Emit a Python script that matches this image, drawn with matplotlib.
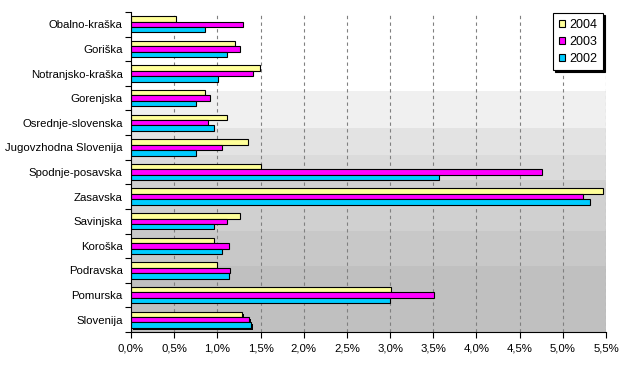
import matplotlib
matplotlib.use("Agg")
import matplotlib.pyplot as plt
import matplotlib.patheffects as pe
from matplotlib.patches import Rectangle
from matplotlib.ticker import FuncFormatter, MultipleLocator, FixedLocator

plt.rcParams['font.family'] = ['Liberation Sans', 'DejaVu Sans']

regions = ["Obalno-kraška", "Goriška", "Notranjsko-kraška", "Gorenjska",
           "Osrednje-slovenska", "Jugovzhodna Slovenija", "Spodnje-posavska",
           "Zasavska", "Savinjska", "Koroška", "Podravska", "Pomurska", "Slovenija"]
v2004 = [0.52, 1.20, 1.49, 0.86, 1.11, 1.35, 1.50, 5.47, 1.26, 0.96, 0.99, 3.01, 1.28]
v2003 = [1.30, 1.26, 1.41, 0.91, 0.89, 1.05, 4.76, 5.23, 1.11, 1.14, 1.15, 3.51, 1.37]
v2002 = [0.86, 1.11, 1.01, 0.75, 0.96, 0.75, 3.57, 5.32, 0.96, 1.05, 1.14, 3.00, 1.39]
years = ["2004", "2003", "2002"]
colors = ["#FFFF99", "#FF00FF", "#00CCFF"]

fig = plt.figure(figsize=(6.25, 3.69), dpi=100)
ax = fig.add_axes([131/625, 1-332/369, 475/625, 320/369])

# background bands (axes fraction)
bands = [(0.0, 0.206, "#C0C0C0"), (0.206, 0.316, "#C8C8C8"), (0.316, 0.475, "#D0D0D0"),
         (0.475, 0.553, "#DBDBDB"), (0.553, 0.6375, "#E3E3E3"), (0.6375, 0.753, "#F0F0F0"),
         (0.753, 1.0, "#FFFFFF")]
for y0, y1, c in bands:
    ax.add_patch(Rectangle((0, y0), 1, y1 - y0, transform=ax.transAxes,
                           facecolor=c, edgecolor='none', zorder=0))

h = 0.22
ypos = list(range(len(regions)))
for k, (vals, col, yr) in enumerate(zip([v2004, v2003, v2002], colors, years)):
    off = (k - 1) * h
    bars = ax.barh([y + off for y in ypos], vals, height=h, color=col,
                   edgecolor='black', linewidth=0.8, zorder=3, label=yr)
    bars[-1].set_path_effects([pe.SimplePatchShadow(offset=(1.5, -1.5), shadow_rgbFace='black', alpha=1.0),
                               pe.Normal()])

ax.set_xlim(0, 5.5)
ax.set_ylim(len(regions) - 0.5, -0.5)
ax.xaxis.set_major_locator(MultipleLocator(0.5))
ax.xaxis.set_major_formatter(FuncFormatter(lambda x, p: f"{x:.1f}%".replace('.', ',')))
ax.grid(axis='x', color='#808080', linestyle=(0, (3, 3)), linewidth=0.8, zorder=1)
ax.set_axisbelow(True)

ax.set_yticks(ypos)
ax.set_yticklabels(regions)
ax.yaxis.set_minor_locator(FixedLocator([i - 0.5 for i in range(len(regions) + 1)]))
ax.tick_params(axis='y', which='major', length=0, pad=6, labelsize=8.2)
ax.tick_params(axis='y', which='minor', length=4, width=0.8)
ax.tick_params(axis='x', which='major', length=4, width=0.8, labelsize=8.2, pad=4)

for s in ['top', 'right']:
    ax.spines[s].set_visible(False)
for s in ['left', 'bottom']:
    ax.spines[s].set_linewidth(0.8)
    ax.spines[s].set_zorder(5)

leg = ax.legend(loc='upper right', bbox_to_anchor=(0.994, 0.997), borderaxespad=0,
                fontsize=9, frameon=True, fancybox=False,
                shadow={'color': 'black', 'alpha': 1, 'ox': 1.4, 'oy': -1.4},
                handlelength=0.5, handleheight=0.5, handletextpad=0.35, labelspacing=0.4,
                borderpad=0.45)
leg.get_frame().set_edgecolor('black')
leg.get_frame().set_linewidth(0.8)
leg.get_frame().set_facecolor('white')
leg.get_frame().set_alpha(1)

fig.savefig("out.png", dpi=100)
